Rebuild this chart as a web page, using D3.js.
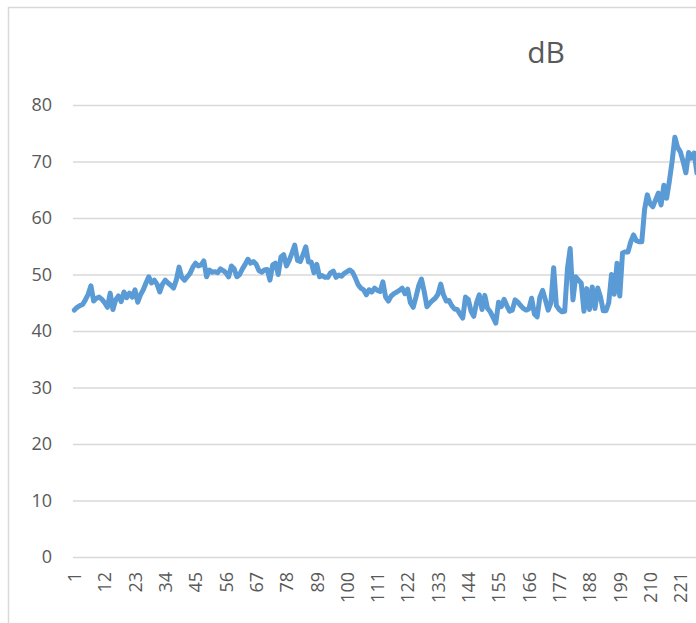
<!DOCTYPE html>
<html>
<head>
<meta charset="utf-8">
<script src="https://cdn.jsdelivr.net/npm/d3@7"></script>
<style>
  body { margin: 0; background: #fff; overflow: hidden; }
  svg { display: block; }
</style>
</head>
<body>
<div id="chart"></div>
<script>
// dB readings, one per sample
const values = [
  43.7, 44.2, 44.5, 44.7, 45.5, 46.5, 48.0, 45.3, 45.8, 46.0,
  45.6, 45.0, 44.2, 46.7, 43.8, 45.5, 46.2, 45.2, 46.9, 45.9,
  46.7, 46.0, 47.3, 45.1, 46.4, 47.3, 48.5, 49.6, 48.5, 49.0,
  48.3, 46.9, 48.3, 49.0, 48.5, 48.1, 47.6, 49.0, 51.3, 49.5,
  49.0, 49.6, 50.2, 51.3, 52.0, 51.5, 51.7, 52.4, 49.6, 50.8,
  50.4, 50.5, 50.3, 51.0, 50.7, 50.3, 49.6, 51.5, 51.0, 49.6,
  50.0, 51.0, 51.8, 52.7, 52.0, 52.3, 51.8, 50.7, 50.4, 50.8,
  50.9, 49.0, 51.7, 52.0, 50.0, 53.1, 53.5, 51.5, 52.5, 53.8,
  55.2, 52.5, 52.3, 53.5, 54.9, 52.2, 52.2, 50.3, 51.8, 49.6,
  49.8, 49.5, 49.5, 50.3, 50.6, 49.5, 49.9, 49.7, 50.2, 50.5,
  50.8, 50.4, 49.4, 48.2, 47.6, 47.3, 46.4, 47.3, 46.9, 47.6,
  47.2, 47.0, 48.7, 46.0, 45.3, 46.2, 46.6, 46.9, 47.2, 47.6,
  46.6, 47.4, 45.0, 44.2, 46.0, 48.0, 49.2, 47.0, 44.3, 44.9,
  45.4, 45.8, 46.5, 48.3, 46.4, 45.3, 45.4, 44.5, 43.9, 43.8,
  43.0, 42.3, 46.0, 45.6, 43.5, 42.6, 45.0, 46.4, 43.8, 46.3,
  44.0, 43.4, 42.4, 41.4, 45.1, 44.3, 45.6, 44.5, 43.5, 43.7,
  45.5, 45.1, 44.5, 44.0, 43.7, 43.9, 45.8, 43.0, 42.5, 46.0,
  47.2, 45.5, 43.7, 45.0, 51.2, 44.5, 43.8, 43.4, 43.5, 51.0,
  54.6, 45.5, 49.6, 49.0, 48.5, 43.5, 47.5, 43.8, 47.8, 44.0,
  47.6, 46.0, 43.6, 43.6, 45.0, 50.0, 46.5, 52.0, 46.2, 53.8,
  54.0, 54.0, 55.8, 57.0, 56.0, 55.8, 55.8, 61.5, 64.1, 62.5,
  62.0, 63.2, 64.4, 62.3, 65.8, 63.5, 66.5, 70.0, 74.3, 72.5,
  71.7, 70.0, 68.0, 71.6, 70.6, 71.5, 68.0, 69.5
];
const categories = d3.range(1, values.length + 1);
const xTickLabels = [1, 12, 23, 34, 45, 56, 67, 78, 89, 100, 111, 122, 133, 144, 155, 166, 177, 188, 199, 210, 221];
const yTicks = [0, 10, 20, 30, 40, 50, 60, 70, 80];
const title = "dB";

const width = 696, height = 623;
const step = 2.7545;
const plotLeft = 73, plotTop = 105, plotBottom = 557;
const textColor = "#595959";
const gridColor = "#d9d9d9";
const lineColor = "#5b9bd5";
const font = "'Open Sans', sans-serif";

const svg = d3.select('#chart').append('svg')
  .attr('width', width)
  .attr('height', height);

// chart frame (extends past the window like the cropped original)
svg.append('rect')
  .attr('x', 8.5).attr('y', 7.5)
  .attr('width', 1200).attr('height', 800)
  .attr('fill', 'none')
  .attr('stroke', gridColor)
  .attr('stroke-width', 1.5);

const x = d3.scalePoint()
  .domain(categories)
  .range([plotLeft + step / 2, plotLeft + step / 2 + step * (categories.length - 1)]);

const y = d3.scaleLinear()
  .domain([0, 80])
  .range([plotBottom, plotTop]);

// y gridlines + labels
const yAxis = svg.append('g')
  .attr('transform', `translate(${plotLeft},0)`)
  .call(d3.axisLeft(y).tickValues(yTicks).tickSize(-(width + 50)).tickPadding(21));
yAxis.select('.domain').remove();
yAxis.selectAll('line')
  .attr('stroke', gridColor)
  .attr('stroke-width', 1.5);
yAxis.selectAll('text')
  .attr('fill', textColor)
  .style('font-family', font)
  .style('font-size', '18px');

// x labels
const xAxis = svg.append('g')
  .attr('transform', `translate(0,${plotBottom})`)
  .call(d3.axisBottom(x).tickValues(xTickLabels).tickSize(0));
xAxis.select('.domain').remove();
xAxis.selectAll('text')
  .attr('fill', textColor)
  .style('font-family', font)
  .style('font-size', '18px')
  .attr('text-anchor', 'end')
  .attr('transform', 'rotate(-90)')
  .attr('x', -15)
  .attr('y', 0)
  .attr('dy', '0.35em');

// line
const line = d3.line()
  .x((d, i) => x(categories[i]))
  .y(d => y(d));

svg.append('path')
  .datum(values)
  .attr('fill', 'none')
  .attr('stroke', lineColor)
  .attr('stroke-width', 5)
  .attr('stroke-linejoin', 'round')
  .attr('stroke-linecap', 'round')
  .attr('d', line);

// title
svg.append('text')
  .attr('x', 546)
  .attr('y', 63)
  .attr('text-anchor', 'middle')
  .attr('fill', textColor)
  .style('font-family', font)
  .style('font-size', '30px')
  .text(title);
</script>
</body>
</html>
